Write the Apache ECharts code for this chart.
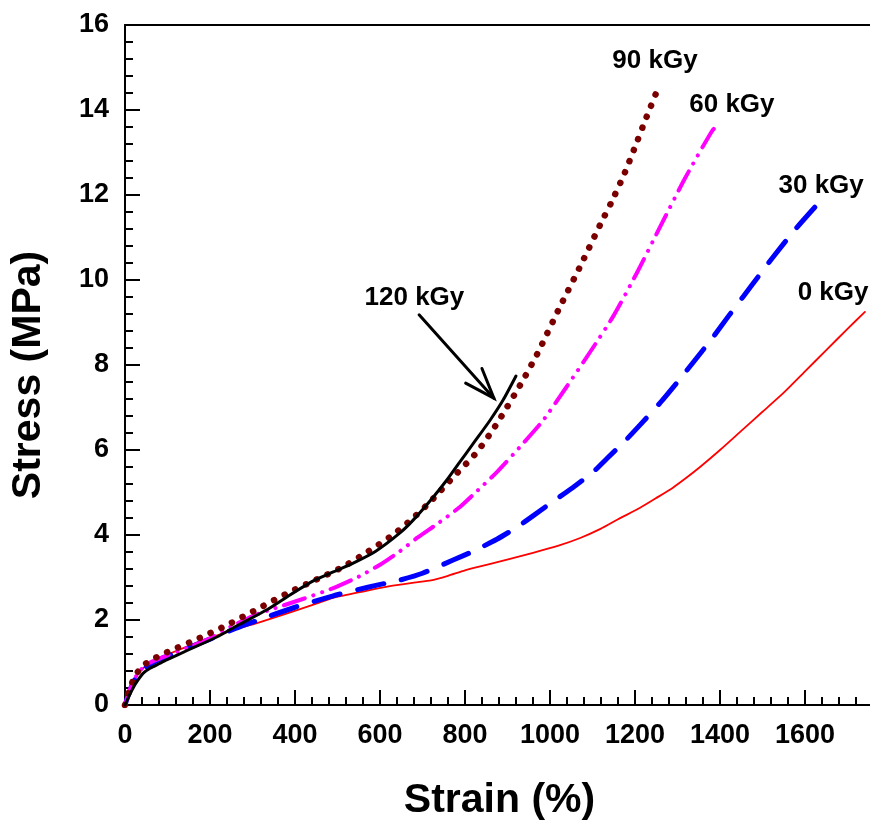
<!DOCTYPE html>
<html>
<head>
<meta charset="utf-8">
<script src="https://cdn.jsdelivr.net/npm/echarts@6/dist/echarts.min.js"></script>
<style>
  html, body { margin: 0; padding: 0; background: #fff; }
  #chart { width: 870px; height: 821px; }
</style>
</head>
<body>
<div id="chart"></div>
<script>
// Stress–strain curves [strain %, stress MPa] for each irradiation dose
const dose0 = [[0,0],[10,0.3],[20,0.55],[30,0.72],[43,0.87],[60,0.99],[80,1.1],[120,1.27],[160,1.43],[200,1.58],[260,1.78],[318,1.95],[380,2.15],[440,2.35],[490,2.52],[560,2.67],[620,2.79],[680,2.88],[720,2.93],[760,3.04],[800,3.17],[860,3.32],[906,3.44],[960,3.58],[1020,3.75],[1071,3.93],[1120,4.15],[1160,4.37],[1212,4.64],[1250,4.87],[1290,5.12],[1320,5.34],[1353,5.6],[1400,6.0],[1450,6.45],[1500,6.9],[1550,7.35],[1600,7.85],[1650,8.35],[1700,8.85],[1741,9.25]];
const dose30 = [[0,0],[10,0.3],[20,0.55],[35,0.75],[50,0.9],[70,1.02],[100,1.15],[150,1.35],[200,1.55],[260,1.8],[334,2.07],[400,2.3],[490,2.57],[550,2.72],[593,2.82],[647,2.94],[700,3.1],[772,3.41],[820,3.62],[875,3.9],[920,4.17],[960,4.45],[1000,4.74],[1054,5.12],[1100,5.47],[1134,5.8],[1180,6.25],[1212,6.59],[1260,7.12],[1300,7.6],[1340,8.1],[1384,8.66],[1420,9.15],[1454,9.6],[1490,10.08],[1525,10.54],[1576,11.18],[1631,11.8]];
const dose60 = [[0,0],[10,0.32],[20,0.58],[35,0.8],[50,0.95],[70,1.05],[100,1.17],[150,1.36],[200,1.57],[250,1.85],[302,2.1],[360,2.3],[420,2.5],[490,2.75],[550,3.02],[600,3.3],[647,3.62],[687,3.93],[740,4.3],[788,4.66],[830,5.05],[875,5.48],[930,6.08],[984,6.7],[1040,7.5],[1094,8.3],[1149,9.15],[1204,10.16],[1259,11.25],[1318,12.4],[1381,13.5],[1398,13.69]];
const dose90 = [[0,0],[10,0.35],[20,0.6],[35,0.85],[50,0.98],[63,1.06],[85,1.18],[110,1.29],[170,1.55],[240,1.88],[310,2.25],[388,2.66],[450,2.95],[513,3.25],[570,3.6],[630,4.0],[678,4.4],[718,4.78],[772,5.36],[828,5.95],[875,6.62],[934,7.6],[972,8.3],[1020,9.3],[1070,10.3],[1118,11.3],[1145,11.84],[1175,12.5],[1200,13.13],[1225,13.78],[1251,14.43]];
const dose120 = [[0,0],[10,0.22],[20,0.42],[30,0.58],[43,0.75],[60,0.87],[80,0.97],[98,1.06],[150,1.3],[216,1.6],[270,1.9],[334,2.24],[390,2.6],[443,2.92],[490,3.13],[537,3.34],[590,3.62],[647,4.05],[678,4.35],[725,4.89],[760,5.33],[788,5.72],[820,6.16],[859,6.7],[890,7.18],[920,7.74]];

// Curve annotations: [strain, stress, text]
const doseLabels = [[1247,15.15,'90 kGy'],[1428,14.12,'60 kGy'],[1638,12.21,'30 kGy'],[1666,9.69,'0 kGy'],[681,9.58,'120 kGy']];
// Pointer for the 120 kGy curve: [fromStrain, fromStress, toStrain, toStress]
const pointer = [[692,9.18,868,7.22]];

const xTicks = { min: 0, max: 1800, interval: 200 };
const yTicks = { min: 0, max: 16, interval: 2 };

const FONT = '"Liberation Sans", Arial, Helvetica, sans-serif';
const chart = echarts.init(document.getElementById('chart'), null, { renderer: 'canvas' });

function line(name, data, color, width, type, z) {
  return {
    name, type: 'line', data, showSymbol: false, symbol: 'none',
    smooth: 0.2,
    z, silent: true, animation: false,
    lineStyle: { color, width, type, cap: 'round', join: 'round' }
  };
}

const axisLineStyle = { lineStyle: { color: '#000', width: 2 } };
const plain = v => String(v);

chart.setOption({
  animation: false,
  backgroundColor: '#fff',
  // the plot runs on past the right edge of the canvas (to 1800 %)
  grid: { left: 125, top: 25, width: 765, height: 680, containLabel: false, outerBoundsMode: 'none' },
  xAxis: [{
    type: 'value', min: xTicks.min, max: xTicks.max, interval: xTicks.interval,
    position: 'bottom',
    axisLine: { show: true, onZero: false, ...axisLineStyle },
    axisTick: { show: true, inside: true, length: 15, lineStyle: { color: '#000', width: 2 } },
    minorTick: { show: true, splitNumber: 5, length: 8, lineStyle: { color: '#000', width: 2 } },
    splitLine: { show: false },
    axisLabel: { show: true, margin: 17, color: '#000', fontFamily: FONT, fontWeight: 'bold', fontSize: 27, showMaxLabel: false, formatter: plain },
    name: 'Strain (%)', nameLocation: 'middle', nameGap: 75,
    nameTextStyle: { color: '#000', fontFamily: FONT, fontWeight: 'bold', fontSize: 41, padding: [0, 16, 0, 0] }
  }, {
    type: 'value', min: xTicks.min, max: xTicks.max, position: 'top',
    axisLine: { show: true, onZero: false, ...axisLineStyle },
    axisTick: { show: false }, axisLabel: { show: false }, splitLine: { show: false }
  }],
  yAxis: [{
    type: 'value', min: yTicks.min, max: yTicks.max, interval: yTicks.interval,
    axisLine: { show: true, onZero: false, ...axisLineStyle },
    axisTick: { show: true, inside: true, length: 15, lineStyle: { color: '#000', width: 2 } },
    minorTick: { show: true, splitNumber: 5, length: 8, lineStyle: { color: '#000', width: 2 } },
    splitLine: { show: false },
    axisLabel: { show: true, margin: 16, color: '#000', fontFamily: FONT, fontWeight: 'bold', fontSize: 27, formatter: plain },
    name: 'Stress (MPa)', nameLocation: 'middle', nameGap: 76,
    nameTextStyle: { color: '#000', fontFamily: FONT, fontWeight: 'bold', fontSize: 41, padding: [0, 20, 0, 0] }
  }],
  series: [
    line('0 kGy', dose0, '#ff0000', 1.8, 'solid', 2),
    line('30 kGy', dose30, '#0000ff', 5, [27, 18], 3),
    line('60 kGy', dose60, '#ff00ff', 4, [22, 9, 0.1, 9, 0.1, 9], 4),
    line('90 kGy', dose90, '#7a0000', 6.5, [0.1, 11.8], 5),
    line('120 kGy', dose120, '#000000', 3, 'solid', 6),
    {
      name: 'labels', type: 'custom', data: doseLabels, z: 10, silent: true,
      renderItem(params, api) {
        const p = api.coord([api.value(0), api.value(1)]);
        return {
          type: 'text', x: p[0], y: p[1],
          style: {
            text: doseLabels[params.dataIndex][2], fill: '#000',
            font: 'bold 26px ' + FONT, align: 'center', verticalAlign: 'middle'
          }
        };
      }
    },
    {
      name: 'pointer', type: 'custom', data: pointer, z: 10, silent: true,
      renderItem(params, api) {
        const a = api.coord([api.value(0), api.value(1)]);
        const b = api.coord([api.value(2), api.value(3)]);
        const ang = Math.atan2(a[1] - b[1], a[0] - b[0]);
        const len = 32, spread = 20 * Math.PI / 180;
        const w1 = [b[0] + len * Math.cos(ang + spread), b[1] + len * Math.sin(ang + spread)];
        const w2 = [b[0] + len * Math.cos(ang - spread), b[1] + len * Math.sin(ang - spread)];
        const st = { stroke: '#000', lineWidth: 3, fill: null, lineCap: 'round' };
        return {
          type: 'group', children: [
            { type: 'line', shape: { x1: a[0], y1: a[1], x2: b[0], y2: b[1] }, style: st },
            { type: 'polyline', shape: { points: [w1, b, w2] }, style: st }
          ]
        };
      }
    }
  ]
});
</script>
</body>
</html>
